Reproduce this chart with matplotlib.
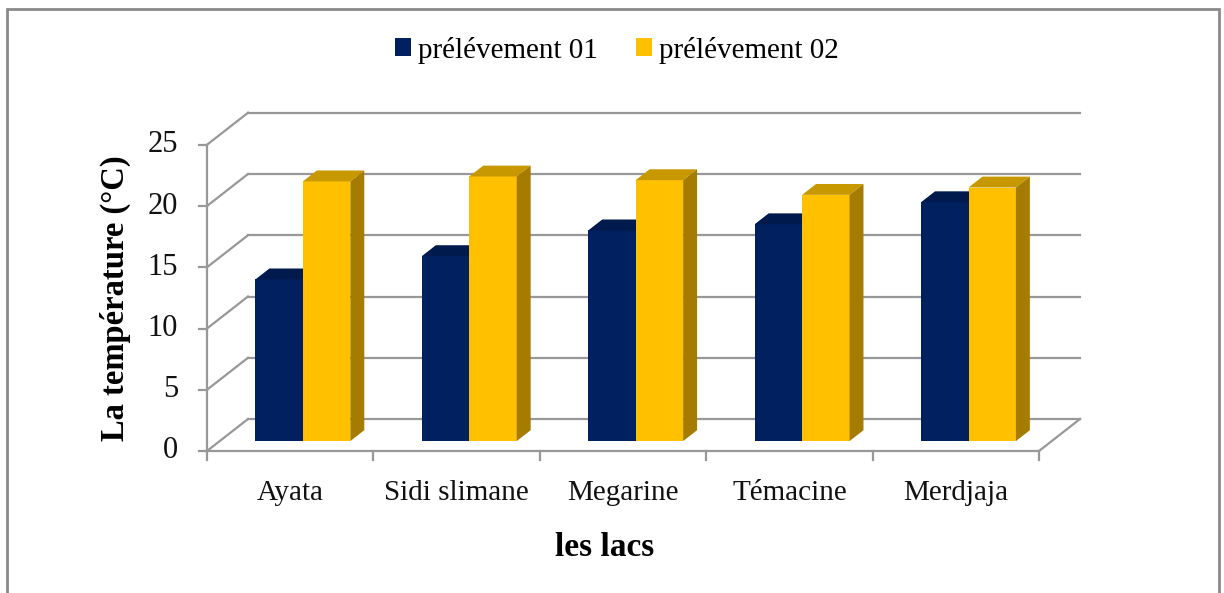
import matplotlib
matplotlib.use("Agg")
import matplotlib.pyplot as plt
from matplotlib.patches import Polygon, Patch, Rectangle

# Data
lakes = ["Ayata", "Sidi slimane", "Megarine", "Témacine", "Merdjaja"]
prelevement_01 = [13.2, 15.1, 17.2, 17.7, 19.5]
prelevement_02 = [21.2, 21.6, 21.3, 20.1, 20.7]
series_labels = ["prélévement 01", "prélévement 02"]
y_ticks = [0, 5, 10, 15, 20, 25]

# Colours (front, top, side)
navy = ("#002060", "#001A4D", "#00163F")
gold = ("#FFC000", "#C89800", "#A67C00")
grid_col = "#989898"

plt.rcParams["font.family"] = ["Liberation Serif", "DejaVu Serif"]

W, H = 1224, 593
fig = plt.figure(figsize=(W / 100, H / 100), dpi=100)
ax = fig.add_axes([0, 0, 1, 1])

# axis mapping: x in category units, y in °C
X0_PX, X_PX = 207, 166.4
Y0_PX, Y_PX = 451, 12.25
ax.set_xlim(-X0_PX / X_PX, (W - X0_PX) / X_PX)
ax.set_ylim((Y0_PX - H) / Y_PX, Y0_PX / Y_PX)
ax.axis("off")

# oblique depth vector of the 3-D box
DX, DY = 41 / X_PX, 32 / Y_PX
n = len(lakes)
lw = 1.6

# back wall gridlines + left wall diagonals
for v in y_ticks:
    ax.plot([DX, n + DX], [v + DY, v + DY], color=grid_col, lw=lw, zorder=1)
    ax.plot([0, DX], [v, v + DY], color=grid_col, lw=lw, zorder=1)
# front value axis with tick marks and labels
ax.plot([0, 0], [0, y_ticks[-1]], color=grid_col, lw=lw, zorder=1)
for v in y_ticks:
    ax.plot([-8 / X_PX, 0], [v, v], color=grid_col, lw=lw, zorder=1)
    ax.text(-29 / X_PX, v, str(v), ha="right", va="center", fontsize=22,
            color="#111111")
# floor front edge, right edge and category ticks
ax.plot([0, n], [0, 0], color=grid_col, lw=lw, zorder=1)
ax.plot([n, n + DX], [0, DY], color=grid_col, lw=lw, zorder=1)
for i in range(n + 1):
    ax.plot([i, i], [0, -9 / Y_PX], color=grid_col, lw=lw, zorder=1)

# bars
z0, z1 = 0.31, 0.65
bw = 0.285
base = z0 * DY
for i in range(n):
    xc = i + 0.5 + z0 * DX
    for k, (vals, col) in enumerate([(prelevement_01, navy), (prelevement_02, gold)]):
        xl = xc - bw + k * bw
        xr = xl + bw
        top = base + vals[i]
        ddx, ddy = (z1 - z0) * DX, (z1 - z0) * DY
        ax.bar(xl, vals[i], bottom=base, width=bw, align="edge",
               color=col[0], edgecolor="none", zorder=3)
        ax.add_patch(Polygon([(xl, top), (xr, top), (xr + ddx, top + ddy),
                              (xl + ddx, top + ddy)], closed=True,
                             facecolor=col[1], edgecolor="none", zorder=3))
        ax.add_patch(Polygon([(xr, base), (xr + ddx, base + ddy),
                              (xr + ddx, top + ddy), (xr, top)], closed=True,
                             facecolor=col[2], edgecolor="none", zorder=2 + k))

# category labels
for i, name in enumerate(lakes):
    ax.text(i + 0.5, -42 / Y_PX, name, ha="center", va="center", fontsize=21,
            color="#111111")

# axis titles
ax.text((605 - X0_PX) / X_PX, (Y0_PX - 548) / Y_PX, "les lacs", ha="center",
        va="center", fontsize=24, fontweight="bold")
ax.text((115 - X0_PX) / X_PX, (Y0_PX - 298) / Y_PX, "La température (°C)",
        ha="center", va="center", fontsize=23.5, fontweight="bold", rotation=90)

# legend
handles = [Patch(facecolor=navy[0], edgecolor="none"),
           Patch(facecolor=gold[0], edgecolor="none")]
fig.legend(handles, series_labels, loc="center", bbox_to_anchor=(617 / W, 1 - 50 / H),
           ncol=2, frameon=False, fontsize=21, handlelength=0.55, handleheight=0.55,
           handletextpad=0.25, columnspacing=1.3)

# outer frame
fig.patches.append(Rectangle((7 / W, -0.01), (1219 - 7) / W, 1 - 9 / H + 0.01,
                             transform=fig.transFigure, fill=False,
                             edgecolor="#8a8a8a", lw=2))

fig.savefig("out.png", dpi=100)
